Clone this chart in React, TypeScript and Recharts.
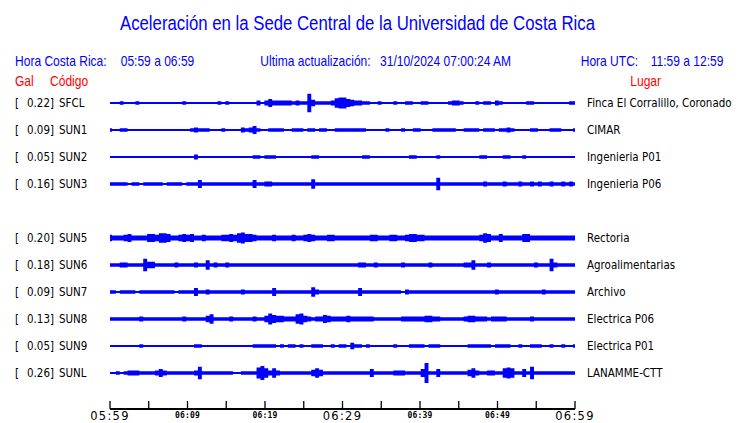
import { Area, ComposedChart, XAxis, YAxis } from "recharts";

// stations, top to bottom (slot 6 = SUN4 is empty on the display)
const stations = ["SFCL", "SUN1", "SUN2", "SUN3", "SUN5", "SUN6", "SUN7", "SUN8", "SUN9", "SUNL"];
const slots = [10, 9, 8, 7, 5, 4, 3, 2, 1, 0];
const peakGal = ["0.22", "0.09", "0.05", "0.16", "0.20", "0.18", "0.09", "0.13", "0.05", "0.26"];
const places = [
  "Finca El Corralillo, Coronado",
  "CIMAR",
  "Ingenieria P01",
  "Ingenieria P06",
  "Rectoria",
  "Agroalimentarias",
  "Archivo",
  "Electrica P06",
  "Electrica P01",
  "LANAMME-CTT",
];

// envelope level of each trace, one char per 30 s window (base 36)
const envSFCL = "1112111211 1111111112 1111111121 2111111131 3533333232 2c42222367 7543322112 1112112211 2211111233 2111212213 2111111221 1111111122";
const envSUN1 = "2112211111 1111111111 1232221112 1111323521 1222211222 1221221122 2222221111 1211121122 1112222221 1222212221 2232111122 1112221112";
const envSUN2 = "1111111111 1111111111 1131111111 1111111221 2221111111 1122111111 1111122111 1111111221 1111211111 1111122111 1221112111 1111111111";
const envSUN3 = "2222212212 2222122221 2225222222 2222222522 3322222222 2262222222 2222222222 2222222222 2222822222 2222223222 2322232232 3223223232";
const envSUN5 = "4333453333 5546653345 4533433334 4546755433 3343333433 4543334433 3333333443 3344334554 4333333333 3333346533 5333335533 3333333333";
const envSUN6 = "2223322228 4422222322 2232262322 3222222222 2222222222 2222222222 2222332232 2222232222 2232222222 2336222322 2222222223 2228322222";
const envSUN7 = "2212222122 2222222122 2252232222 2222322222 2252222222 2263222222 2222522222 2222213222 2222222222 2222222223 2222222222 2322222222";
const envSUN8 = "2222222232 2222222223 2222246222 2322222322 4754433367 4323354333 3433333322 2222233333 3443322222 2344333233 3322222232 2222222222";
const envSUN9 = "1111111121 1111111111 1122111111 1111111222 2221212212 1122211212 2142212111 1112111222 2122211111 1122222212 2221121122 2112112112";
const envSUNL = "1121233322 2235322222 2238222222 2211222279 6363222222 2246422222 2222222522 2223332222 5d22522222 2246322332 2676225282 2222222222";

const envelopes = [envSFCL, envSUN1, envSUN2, envSUN3, envSUN5, envSUN6, envSUN7, envSUN8, envSUN9, envSUNL];

const xTicks = [0, 5, 10, 15, 20, 25, 30, 35, 40, 45, 50, 55, 60];
const xTickLabels = ["05:59", "", "06:09", "", "06:19", "", "06:29", "", "06:39", "", "06:49", "", "06:59"];
const majorLabels = ["05:59", "06:29", "06:59"];

const N = 120;
const MINUTES = 60;
const ROW_PX = 27;
const BLUE = "#0000ff";
const RED = "#ff0000";
const SQUEEZE = 0.86;

const levels = envelopes.map((s) =>
  s.replace(/ /g, "").split("").map((c) => parseInt(c, 36))
);

const data = Array.from({ length: N }, (_, i) => {
  const row: Record<string, any> = { t: (i * MINUTES) / (N - 1) };
  stations.forEach((code, k) => {
    const lv = levels[k][i] ?? 1;
    const h = (0.25 + 0.75 * lv) / ROW_PX;
    row[code] = [slots[k] - h, slots[k] + h];
  });
  return row;
});

const Txt = ({ x, y, size, fill = "#000", family = "Liberation Sans, Arial, sans-serif", anchor = "start", children }: any) => (
  <text
    transform={`translate(${x},${y}) scale(${SQUEEZE},1)`}
    fontSize={size}
    fill={fill}
    fontFamily={family}
    textAnchor={anchor}
  >
    {children}
  </text>
);

const LeftTick = (props: any) => {
  const { x, y, payload } = props;
  const k = slots.indexOf(payload.value);
  if (k < 0) return null;
  const fam = "DejaVu Sans, sans-serif";
  return (
    <g>
      <Txt x={x - 95} y={y + 4.3} size={12} family={fam}>[</Txt>
      <Txt x={x - 56} y={y + 4.3} size={12} family={fam} anchor="end">{peakGal[k] + "]"}</Txt>
      <Txt x={x - 51} y={y + 4.3} size={12} family={fam}>{stations[k]}</Txt>
    </g>
  );
};

const RightTick = (props: any) => {
  const { x, y, payload } = props;
  const k = slots.indexOf(payload.value);
  if (k < 0) return null;
  return (
    <Txt x={x + 12} y={y + 4.3} size={12} family="DejaVu Sans, sans-serif">
      {places[k]}
    </Txt>
  );
};

const TimeTick = (props: any) => {
  const { x, y, payload } = props;
  const label = xTickLabels[xTicks.indexOf(payload.value)] || "";
  const major = majorLabels.includes(label);
  return (
    <g>
      <line x1={x} x2={x} y1={y - 8} y2={y} stroke="#000" strokeWidth={1.3} />
      {label &&
        (major ? (
          <text x={x} y={y + 11} textAnchor="middle" fontSize={11.5} letterSpacing={1.3} fontFamily="DejaVu Sans, sans-serif" fill="#000">
            {label}
          </text>
        ) : (
          <text x={x} y={y + 8.5} textAnchor="middle" fontSize={8} letterSpacing={0.2} fontWeight="bold" fontFamily="DejaVu Sans Mono, monospace" fill="#000">
            {label}
          </text>
        ))}
    </g>
  );
};

export default function App() {
  return (
    <div style={{ position: "absolute", left: 0, top: 0, width: 740, height: 423, background: "#fff" }}>
      <ComposedChart
        width={740}
        height={423}
        data={data}
        margin={{ top: 76, right: 0, bottom: 0, left: 0 }}
      >
        <XAxis
          dataKey="t"
          type="number"
          domain={[0, 60]}
          ticks={xTicks}
          interval={0}
          tick={<TimeTick />}
          tickLine={false}
          tickSize={0}
          tickMargin={0}
          axisLine={{ stroke: "#000", strokeWidth: 2 }}
          height={14}
        />
        <YAxis
          yAxisId="l"
          type="number"
          domain={[-1.3333, 11]}
          ticks={slots}
          interval={0}
          allowDataOverflow
          tick={<LeftTick />}
          width={110}
          axisLine={false}
          tickLine={false}
          tickSize={0}
          tickMargin={0}
        />
        <YAxis
          yAxisId="r"
          orientation="right"
          type="number"
          domain={[-1.3333, 11]}
          ticks={slots}
          interval={0}
          allowDataOverflow
          tick={<RightTick />}
          width={165}
          axisLine={false}
          tickLine={false}
          tickSize={0}
          tickMargin={0}
        />
        {stations.map((code) => (
          <Area
            key={code}
            yAxisId="l"
            dataKey={code}
            type="step"
            stroke="none"
            fill={BLUE}
            fillOpacity={1}
            dot={false}
            activeDot={false}
            isAnimationActive={false}
          />
        ))}
      </ComposedChart>
      <svg width={740} height={423} style={{ position: "absolute", left: 0, top: 0, pointerEvents: "none" }}>
        <Txt x={120} y={30} size={19.5} fill={BLUE}>
          Aceleración en la Sede Central de la Universidad de Costa Rica
        </Txt>
        <Txt x={15} y={65.7} size={14} fill={BLUE}>Hora Costa Rica:</Txt>
        <Txt x={120.7} y={65.7} size={14} fill={BLUE}>05:59 a 06:59</Txt>
        <Txt x={260.3} y={65.7} size={14} fill={BLUE}>Ultima actualización:</Txt>
        <Txt x={380} y={65.7} size={14} fill={BLUE}>31/10/2024 07:00:24 AM</Txt>
        <Txt x={580.7} y={65.7} size={14} fill={BLUE}>Hora UTC:</Txt>
        <Txt x={650.7} y={65.7} size={14} fill={BLUE}>11:59 a 12:59</Txt>
        <Txt x={15} y={85.7} size={14} fill={RED}>Gal</Txt>
        <Txt x={50} y={85.7} size={14} fill={RED}>Código</Txt>
        <Txt x={630.3} y={85.7} size={14} fill={RED}>Lugar</Txt>
      </svg>
    </div>
  );
}
